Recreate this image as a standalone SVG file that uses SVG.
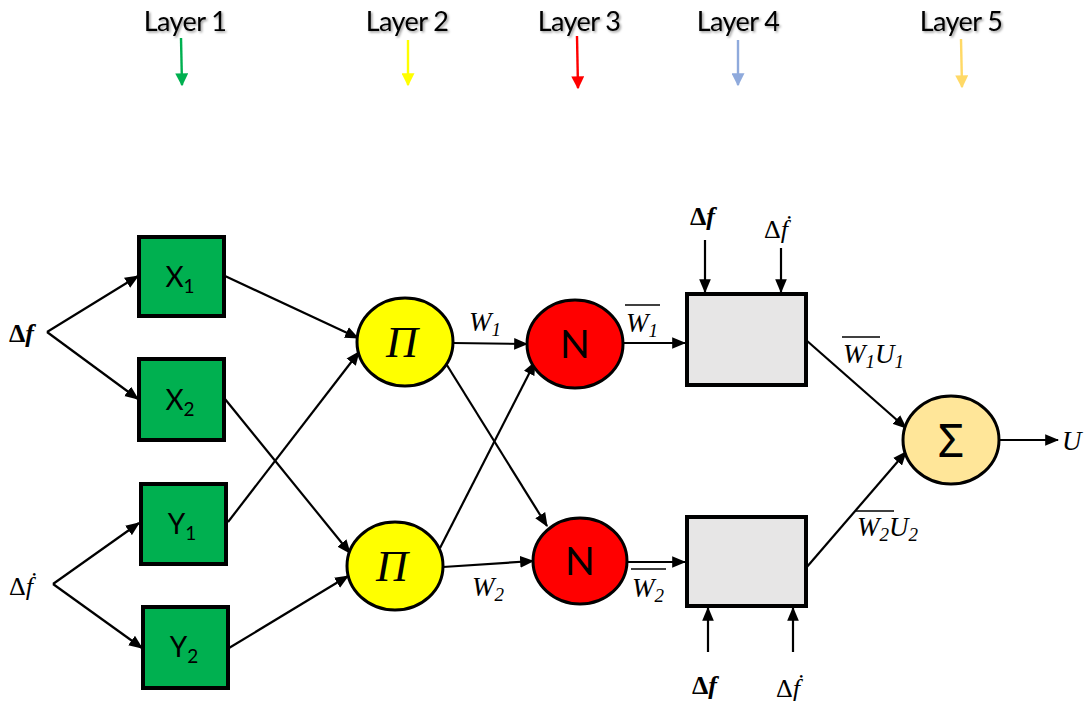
<svg xmlns="http://www.w3.org/2000/svg" width="1090" height="701" viewBox="0 0 1090 701">
<style>
.lay{font-family:Lato,"Open Sans",sans-serif;font-size:27px;fill:#000;text-anchor:middle;letter-spacing:-0.6px}
.edge{stroke:#000;stroke-width:2.2;fill:none;marker-end:url(#ah)}
.box{fill:#00b050;stroke:#000;stroke-width:4}
.gray{fill:#e7e6e6;stroke:#000;stroke-width:4}
.circ{stroke:#000;stroke-width:3}
.lbl{font-family:Lato,"Open Sans",sans-serif;font-size:28px;fill:#000;text-anchor:middle}
.m{font-family:"Liberation Serif",serif;font-style:italic;font-size:27px;fill:#000}
.s{font-size:19px}
.d{font-family:"Liberation Serif",serif;font-size:26px;fill:#000}
.b{font-weight:bold}
.ov{stroke:#000;stroke-width:1.4}
</style>
<defs>
<marker id="ah" viewBox="0 0 12 10" refX="11" refY="5" markerWidth="14" markerHeight="12" markerUnits="userSpaceOnUse" orient="auto"><path d="M0,0 L12,5 L0,10 Z" fill="#000"/></marker>
<marker id="ahG" viewBox="0 0 10 10" refX="9" refY="5" markerWidth="13" markerHeight="13" markerUnits="userSpaceOnUse" orient="auto"><path d="M0,0 L10,5 L0,10 Z" fill="#00b050"/></marker>
<marker id="ahY" viewBox="0 0 10 10" refX="9" refY="5" markerWidth="13" markerHeight="13" markerUnits="userSpaceOnUse" orient="auto"><path d="M0,0 L10,5 L0,10 Z" fill="#ffff00"/></marker>
<marker id="ahR" viewBox="0 0 10 10" refX="9" refY="5" markerWidth="13" markerHeight="13" markerUnits="userSpaceOnUse" orient="auto"><path d="M0,0 L10,5 L0,10 Z" fill="#ff0000"/></marker>
<marker id="ahB" viewBox="0 0 10 10" refX="9" refY="5" markerWidth="13" markerHeight="13" markerUnits="userSpaceOnUse" orient="auto"><path d="M0,0 L10,5 L0,10 Z" fill="#8faadc"/></marker>
<marker id="ahO" viewBox="0 0 10 10" refX="9" refY="5" markerWidth="13" markerHeight="13" markerUnits="userSpaceOnUse" orient="auto"><path d="M0,0 L10,5 L0,10 Z" fill="#ffd966"/></marker>
<filter id="sh" x="-10%" y="-20%" width="130%" height="150%"><feDropShadow dx="1.5" dy="1.5" stdDeviation="1" flood-color="#000" flood-opacity="0.4"/></filter>
</defs>

<g id="layers" filter="url(#sh)">
<text class="lay" x="185" y="31">Layer 1</text>
<text class="lay" x="407" y="31">Layer 2</text>
<text class="lay" x="579" y="31">Layer 3</text>
<text class="lay" x="738" y="31">Layer 4</text>
<text class="lay" x="961" y="31">Layer 5</text>
</g>
<g id="layer-arrows" stroke-width="2.4">
<line x1="181" y1="38" x2="182" y2="85" stroke="#00b050" marker-end="url(#ahG)"/>
<line x1="408" y1="40" x2="408" y2="85" stroke="#ffff00" marker-end="url(#ahY)"/>
<line x1="577" y1="36" x2="578" y2="88" stroke="#ff0000" marker-end="url(#ahR)"/>
<line x1="738" y1="40" x2="738" y2="85" stroke="#8faadc" marker-end="url(#ahB)"/>
<line x1="961" y1="39" x2="962" y2="87" stroke="#ffd966" marker-end="url(#ahO)"/>
</g>

<g id="connectors">
<line class="edge" x1="47" y1="332" x2="138" y2="276"/>
<line class="edge" x1="47" y1="332" x2="138" y2="399"/>
<line class="edge" x1="53" y1="584" x2="139" y2="523"/>
<line class="edge" x1="53" y1="584" x2="142" y2="648"/>
<line class="edge" x1="225" y1="276" x2="358" y2="338"/>
<line class="edge" x1="225" y1="399" x2="350" y2="553"/>
<line class="edge" x1="228" y1="522" x2="359" y2="352"/>
<line class="edge" x1="229" y1="648" x2="348" y2="576"/>
<line class="edge" x1="453" y1="343" x2="527" y2="344"/>
<line class="edge" x1="445" y1="362" x2="547" y2="526"/>
<line class="edge" x1="440" y1="548" x2="535" y2="362"/>
<line class="edge" x1="443" y1="567" x2="533" y2="561"/>
<line class="edge" x1="624" y1="343" x2="685" y2="343"/>
<line class="edge" x1="627" y1="562" x2="685" y2="562"/>
<line class="edge" x1="806" y1="340" x2="906" y2="428"/>
<line class="edge" x1="806" y1="568" x2="906" y2="452"/>
<line class="edge" x1="1000" y1="440" x2="1058" y2="440"/>
<line class="edge" x1="705" y1="240" x2="705" y2="292"/>
<line class="edge" x1="781" y1="248" x2="781" y2="292"/>
<line class="edge" x1="708" y1="652" x2="708" y2="608"/>
<line class="edge" x1="793" y1="652" x2="793" y2="608"/>
</g>

<g id="X1"><rect class="box" x="139" y="237" width="85" height="79"/><text class="lbl" x="180" y="287">X<tspan font-size="19" dy="6">1</tspan></text></g>
<g id="X2"><rect class="box" x="139" y="359" width="85" height="81"/><text class="lbl" x="180" y="410">X<tspan font-size="19" dy="6">2</tspan></text></g>
<g id="Y1"><rect class="box" x="141" y="484" width="85" height="80"/><text class="lbl" x="182" y="534">Y<tspan font-size="19" dy="6">1</tspan></text></g>
<g id="Y2"><rect class="box" x="143" y="607" width="85" height="81"/><text class="lbl" x="184" y="657">Y<tspan font-size="19" dy="6">2</tspan></text></g>

<g id="Pi1"><ellipse class="circ" cx="405" cy="342" rx="48" ry="44" fill="#ffff00"/><text x="402" y="357" font-family="Liberation Serif,serif" font-style="italic" font-size="44" text-anchor="middle">Π</text></g>
<g id="Pi2"><ellipse class="circ" cx="395" cy="566" rx="48" ry="44" fill="#ffff00"/><text x="392" y="581" font-family="Liberation Serif,serif" font-style="italic" font-size="44" text-anchor="middle">Π</text></g>
<g id="N1"><ellipse class="circ" cx="575" cy="344" rx="48" ry="44" fill="#ff0000"/><text x="575" y="358" font-family="Lato,sans-serif" font-size="39" text-anchor="middle">N</text></g>
<g id="N2"><ellipse class="circ" cx="580" cy="561" rx="47" ry="43" fill="#ff0000"/><text x="580" y="575" font-family="Lato,sans-serif" font-size="39" text-anchor="middle">N</text></g>
<g id="R1"><rect class="gray" x="687" y="294" width="119" height="91"/></g>
<g id="R2"><rect class="gray" x="687" y="517" width="119" height="89"/></g>
<g id="Sum"><ellipse class="circ" cx="951" cy="440" rx="48" ry="44" fill="#ffe699"/><text x="951" y="457" font-family="Noto Sans,sans-serif" font-size="46" text-anchor="middle">Σ</text></g>

<g id="labels">
<text class="d b" x="9" y="342">Δ<tspan font-style="italic">f</tspan></text>
<text class="d" x="9" y="595">Δ<tspan font-style="italic">ḟ</tspan></text>
<text class="m" x="469" y="331">W<tspan class="s" dy="5">1</tspan></text>
<text class="m" x="472" y="596">W<tspan class="s" dy="5">2</tspan></text>
<text class="m" x="626" y="332">W<tspan class="s" dy="5">1</tspan></text>
<line class="ov" x1="625" y1="305" x2="660" y2="305"/>
<text class="m" x="632" y="597">W<tspan class="s" dy="5">2</tspan></text>
<line class="ov" x1="631" y1="569" x2="666" y2="569"/>
<text class="m" x="843" y="363">W<tspan class="s" dy="5">1</tspan><tspan dy="-5">U</tspan><tspan class="s" dy="5">1</tspan></text>
<line class="ov" x1="842" y1="337" x2="880" y2="337"/>
<text class="m" x="857" y="536">W<tspan class="s" dy="5">2</tspan><tspan dy="-5">U</tspan><tspan class="s" dy="5">2</tspan></text>
<line class="ov" x1="856" y1="511" x2="894" y2="511"/>
<text class="m" x="1062" y="450" font-size="29">U</text>
<text class="d b" x="690" y="225">Δ<tspan font-style="italic">f</tspan></text>
<text class="d" x="764" y="238">Δ<tspan font-style="italic">ḟ</tspan></text>
<text class="d b" x="692" y="694">Δ<tspan font-style="italic">f</tspan></text>
<text class="d" x="776" y="697">Δ<tspan font-style="italic">ḟ</tspan></text>
</g>
</svg>
